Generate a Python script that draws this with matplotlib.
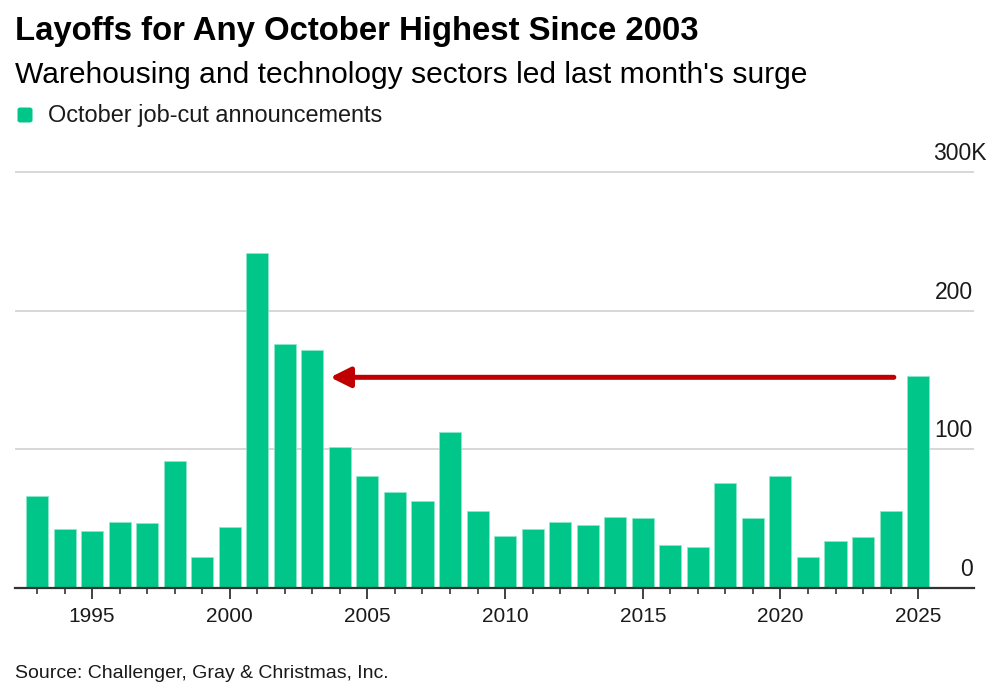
import numpy as np
import matplotlib
matplotlib.use("Agg")
import matplotlib.pyplot as plt
from matplotlib.patches import FancyBboxPatch
from matplotlib.ticker import FixedLocator


# October job-cut announcements, thousands
years = np.arange(1993, 2026)
cuts = [
    66.6, 42.3, 41.1, 47.6, 47.1, 91.4, 22.6, 43.8, 241.9, 175.8,
    171.7, 101.5, 81.0, 69.0, 63.0, 112.8, 55.6, 37.7, 42.6, 47.6,
    45.7, 51.2, 50.3, 30.8, 29.8, 75.5, 50.3, 80.6, 22.6, 33.9,
    36.8, 55.6, 153.0,
]

x_major = [1995, 2000, 2005, 2010, 2015, 2020, 2025]

y_ticks = [0, 100, 200, 300]
y_labels = ["0", "100", "200", "300K"]

arrow_from = (2024.12, 152)
arrow_to = (2003.65, 152)

title = "Layoffs for Any October Highest Since 2003"
subtitle = "Warehousing and technology sectors led last month's surge"
legend_label = "October job-cut announcements"
source = "Source: Challenger, Gray & Christmas, Inc."

bar_color = "#00C68A"
arrow_color = "#C00000"

plt.rcParams['font.family'] = ['Liberation Sans', 'DejaVu Sans']

W, H = 1008, 690
fig = plt.figure(figsize=(W / 100, H / 100), dpi=100)

ax = fig.add_axes([15 / W, 1 - 588 / H, (974 - 15) / W, (588 - 169.4) / H])

ax.bar(years, cuts, width=0.8, color=bar_color,
       edgecolor="#8fe8c8", linewidth=0.5, zorder=3)

ax.set_xlim(1992.2, 2027.03)
ax.set_ylim(0, 302)

# gridlines
for v in y_ticks[1:]:
    ax.axhline(v, color="#d4d4d4", linewidth=1.3, zorder=1)

# y labels sitting above gridlines on the right
for v, lab in zip(y_ticks, y_labels):
    dx = 13 if lab.endswith("K") else -1
    ax.annotate(lab, xy=(1.0, v), xycoords=("axes fraction", "data"),
                xytext=(dx, 7), textcoords="offset pixels",
                ha="right", va="bottom", fontsize=16.5, color="#1a1a1a")

ax.set_yticks([])

for s in ["top", "right", "left"]:
    ax.spines[s].set_visible(False)
ax.spines["bottom"].set_color("#333333")
ax.spines["bottom"].set_linewidth(1.6)
ax.spines["bottom"].set_zorder(4)

ax.xaxis.set_major_locator(FixedLocator(x_major))
ax.xaxis.set_minor_locator(FixedLocator(years))
ax.tick_params(axis="x", which="major", length=8, width=1.3,
               color="#333333", labelsize=15, pad=6, labelcolor="#1a1a1a")
ax.tick_params(axis="x", which="minor", length=4.5, width=1.2,
               color="#333333")

# arrow from 2025 back to 2003
ax.annotate("", xy=arrow_to, xytext=arrow_from,
            arrowprops=dict(arrowstyle="-|>,head_length=0.6,head_width=0.3",
                            mutation_scale=20, color=arrow_color,
                            linewidth=3.6, shrinkA=0, shrinkB=0),
            zorder=5)

# header texts
fig.text(15 / W, 1 - 40 / H, title, fontsize=23.7, fontweight="bold",
         va="baseline", ha="left", color="#000000")
fig.text(15 / W, 1 - 82.7 / H, subtitle, fontsize=21.6, va="baseline",
         ha="left", color="#000000")

sq = FancyBboxPatch((17.5 / W, 1 - 122.5 / H), 15 / W, 15 / H,
                    boxstyle="round,pad=0,rounding_size=0.003",
                    transform=fig.transFigure, facecolor=bar_color,
                    edgecolor="none")
fig.patches.append(sq)
fig.text(48 / W, 1 - 121.7 / H, legend_label, fontsize=16.9,
         va="baseline", ha="left", color="#1a1a1a")

fig.text(15 / W, 1 - 678.3 / H, source, fontsize=14, va="baseline",
         ha="left", color="#1a1a1a")

fig.savefig("out.png", dpi=100)
